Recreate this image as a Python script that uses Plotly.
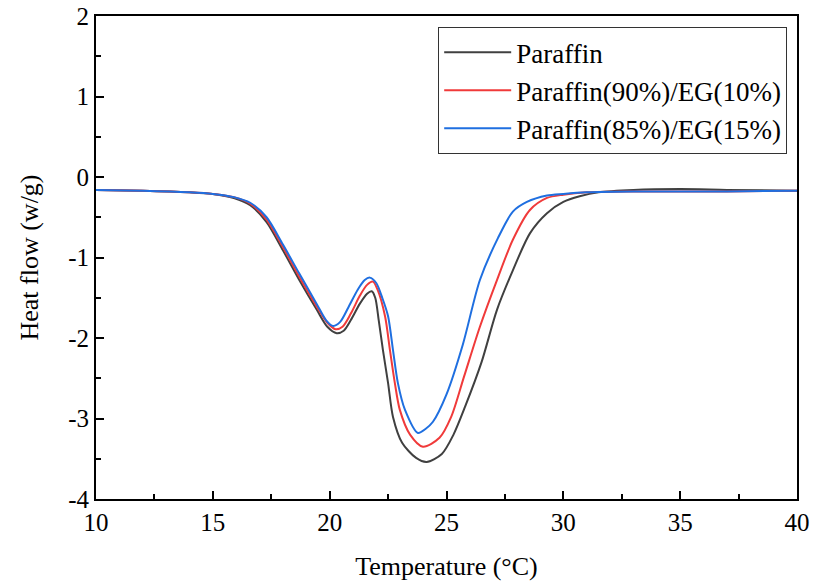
import plotly.graph_objects as go

# DSC heating curves: temperature (°C) vs heat flow (w/g)
paraffin_t = [10, 12, 14, 15, 15.9, 16.6, 17.3, 18.0, 18.7, 19.45, 19.9, 20.3, 20.6,
              20.9, 21.3, 21.6, 21.8, 21.95, 22.1, 22.28, 22.5, 22.71, 23.1, 23.7,
              24.15, 24.8, 25.3, 25.8, 26.5, 27.16, 27.84, 28.57, 29.3, 30.0, 30.7,
              31.5, 33, 35, 37, 40]
paraffin_q = [-0.16, -0.17, -0.19, -0.21, -0.26, -0.35, -0.56, -0.91, -1.28, -1.65, -1.86,
              -1.94, -1.91, -1.78, -1.57, -1.45, -1.42, -1.50, -1.78, -2.15, -2.56, -2.98,
              -3.30, -3.49, -3.54, -3.44, -3.20, -2.85, -2.30, -1.65, -1.16, -0.70, -0.45,
              -0.31, -0.24, -0.19, -0.16, -0.15, -0.16, -0.17]

eg10_t = [10, 12, 14, 15, 15.9, 16.6, 17.3, 18.0, 18.7, 19.45, 19.9, 20.25, 20.55,
          20.9, 21.3, 21.6, 21.85, 22.05, 22.37, 22.58, 22.79, 23.0, 23.44, 23.99,
          24.7, 25.2, 25.75, 26.43, 27.16, 27.84, 28.57, 29.3, 30.0, 31, 33, 35, 37, 40]
eg10_q = [-0.16, -0.17, -0.19, -0.21, -0.25, -0.33, -0.53, -0.87, -1.24, -1.61, -1.81,
          -1.89, -1.86, -1.70, -1.47, -1.34, -1.30, -1.40, -1.73, -2.15, -2.56, -2.89,
          -3.20, -3.35, -3.24, -2.98, -2.48, -1.86, -1.28, -0.78, -0.41, -0.26, -0.22,
          -0.19, -0.18, -0.18, -0.18, -0.17]

eg15_t = [10, 12, 14, 15, 15.9, 16.6, 17.3, 18.0, 18.7, 19.45, 19.85, 20.15, 20.45,
          20.8, 21.2, 21.5, 21.72, 22.0, 22.25, 22.5, 22.71, 22.92, 23.22, 23.78,
          24.1, 24.42, 25.0, 25.7, 26.43, 27.2, 27.84, 28.44, 29.3, 30.0, 31, 33, 35,
          37, 40]
eg15_q = [-0.16, -0.17, -0.19, -0.21, -0.25, -0.32, -0.50, -0.84, -1.20, -1.58, -1.78,
          -1.85, -1.80, -1.62, -1.40, -1.28, -1.25, -1.32, -1.50, -1.73, -2.15, -2.56,
          -2.89, -3.18, -3.13, -3.04, -2.70, -2.08, -1.28, -0.76, -0.43, -0.31, -0.23,
          -0.21, -0.19, -0.18, -0.18, -0.18, -0.17]

x_ticks = [10, 15, 20, 25, 30, 35, 40]
y_ticks = [-4, -3, -2, -1, 0, 1, 2]
y_tick_text = ["-4", "-3", "-2", "-1", "0", "1", "2"]

series = [
    ("Paraffin", paraffin_t, paraffin_q, "#404040"),
    ("Paraffin(90%)/EG(10%)", eg10_t, eg10_q, "#f03a3a"),
    ("Paraffin(85%)/EG(15%)", eg15_t, eg15_q, "#1f6fe0"),
]

font_family = "Liberation Serif, Times New Roman, serif"

fig = go.Figure()
for name, t, q, color in series:
    fig.add_trace(go.Scatter(
        x=t, y=q, name=name, mode="lines",
        line=dict(color=color, width=2, shape="spline", smoothing=0.8),
    ))

axis_common = dict(
    showline=True, linecolor="black", linewidth=2, mirror=True,
    ticks="inside", ticklen=8, tickwidth=1.5, tickcolor="black",
    showgrid=False, zeroline=False, automargin=False,
    tickfont=dict(family=font_family, size=25, color="black"),
)

fig.update_xaxes(
    range=[10, 40], tickvals=x_ticks, ticktext=[str(v) for v in x_ticks],
    title=dict(text="Temperature (°C)", font=dict(family=font_family, size=26, color="black"),
               standoff=22),
    minor=dict(ticks="inside", ticklen=5, tickwidth=1.5, tickcolor="black",
               tick0=10, dtick=2.5),
    **axis_common,
)
fig.update_yaxes(
    range=[-4, 2], tickvals=y_ticks, ticktext=y_tick_text,
    title=dict(text="Heat flow (w/g)", font=dict(family=font_family, size=26, color="black"),
               standoff=22),
    minor=dict(ticks="inside", ticklen=5, tickwidth=1.5, tickcolor="black",
               tick0=-4, dtick=0.5),
    **axis_common,
)

fig.update_layout(
    width=814, height=586,
    margin=dict(l=96, r=17, t=16, b=87),
    plot_bgcolor="white", paper_bgcolor="white",
    font=dict(family=font_family, color="black"),
    legend=dict(
        x=0.986, y=0.977, xanchor="right", yanchor="top",
        bordercolor="#333333", borderwidth=1, bgcolor="white",
        font=dict(family=font_family, size=27, color="black"),
        tracegroupgap=0, itemwidth=67,
    ),
)

fig.write_html("out.html")
